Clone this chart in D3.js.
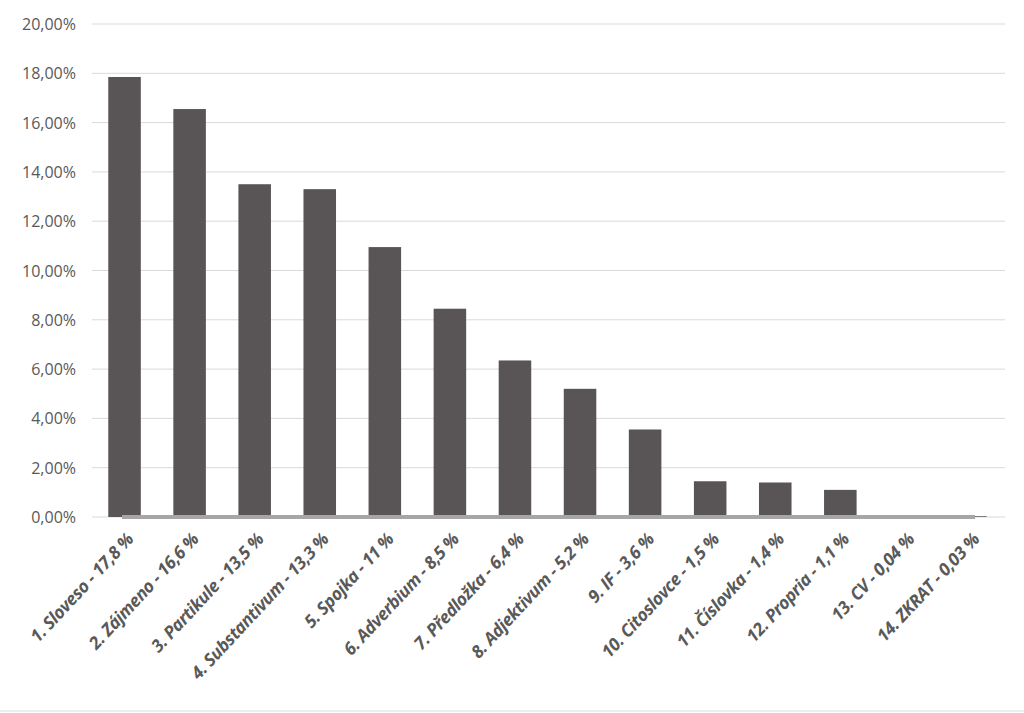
<!DOCTYPE html>
<html><head><meta charset="utf-8">
<script src="https://cdn.jsdelivr.net/npm/d3@7"></script>
<style>body{margin:0;background:#fff}</style>
</head><body><div id="chart"></div>
<script>
// data
var categories = ['1. Sloveso - 17,8 %', '2. Zájmeno - 16,6 %', '3. Partikule - 13,5 %', '4. Substantivum - 13,3 %',
  '5. Spojka - 11 %', '6. Adverbium - 8,5 %', '7. Předložka - 6,4 %', '8. Adjektivum - 5,2 %', '9. IF - 3,6 %',
  '10. Citoslovce - 1,5 %', '11. Číslovka - 1,4 %', '12. Propria - 1,1 %', '13. CV  - 0,04 %', '14. ZKRAT - 0,03 %'];
var values = [17.85, 16.55, 13.5, 13.3, 10.95, 8.45, 6.35, 5.2, 3.55, 1.45, 1.4, 1.1, 0.04, 0.03];
var yTicks = [0, 2, 4, 6, 8, 10, 12, 14, 16, 18, 20];

var svg = d3.select('#chart').append('svg').attr('width', 1024).attr('height', 713);
var x = d3.scaleBand().domain(categories).range([92, 1003]).paddingInner(0.5).paddingOuter(0.25);
var y = d3.scaleLinear().domain([0, 20]).range([517, 24]);

svg.append('g').selectAll('line').data(yTicks).join('line')
    .attr('x1', 92).attr('x2', 1005)
    .attr('y1', function (d) { return y(d); }).attr('y2', function (d) { return y(d); })
    .style('stroke', '#d9d9d9').style('stroke-width', 1);

svg.append('g').selectAll('text').data(yTicks).join('text')
    .attr('x', 76).attr('y', function (d) { return y(d) + 6; })
    .attr('text-anchor', 'end')
    .style('font-family', 'Open Sans, sans-serif').style('font-size', '16px').style('fill', '#595959')
    .text(function (d) { return d.toFixed(2).replace('.', ',') + '%'; });

svg.append('g').selectAll('rect').data(values).join('rect')
    .attr('x', function (d, i) { return x(categories[i]); })
    .attr('width', x.bandwidth())
    .attr('y', function (d) { return y(d); })
    .attr('height', function (d) { return y(0) - y(d); })
    .style('fill', '#595455');

svg.append('line').attr('x1', 122).attr('x2', 975).attr('y1', y(0)).attr('y2', y(0))
    .style('stroke', '#a6a6a6').style('stroke-width', 4);

svg.append('g').selectAll('text').data(categories).join('text')
    .attr('transform', function (d) {
        return 'translate(' + (x(d) + x.bandwidth() / 2 + 10) + ',' + 540 + ') rotate(-47)';
    })
    .attr('text-anchor', 'end')
    .style('font-family', 'Open Sans, sans-serif').style('font-size', '17.5px')
    .style('font-weight', 'bold').style('font-style', 'italic').style('fill', '#595959')
    .style('letter-spacing', '-0.4px')
    .text(function (d) { return d; });

svg.append('line').attr('x1', 0).attr('x2', 1024).attr('y1', 711).attr('y2', 711)
    .style('stroke', '#eee').style('stroke-width', 2);
</script></body></html>
